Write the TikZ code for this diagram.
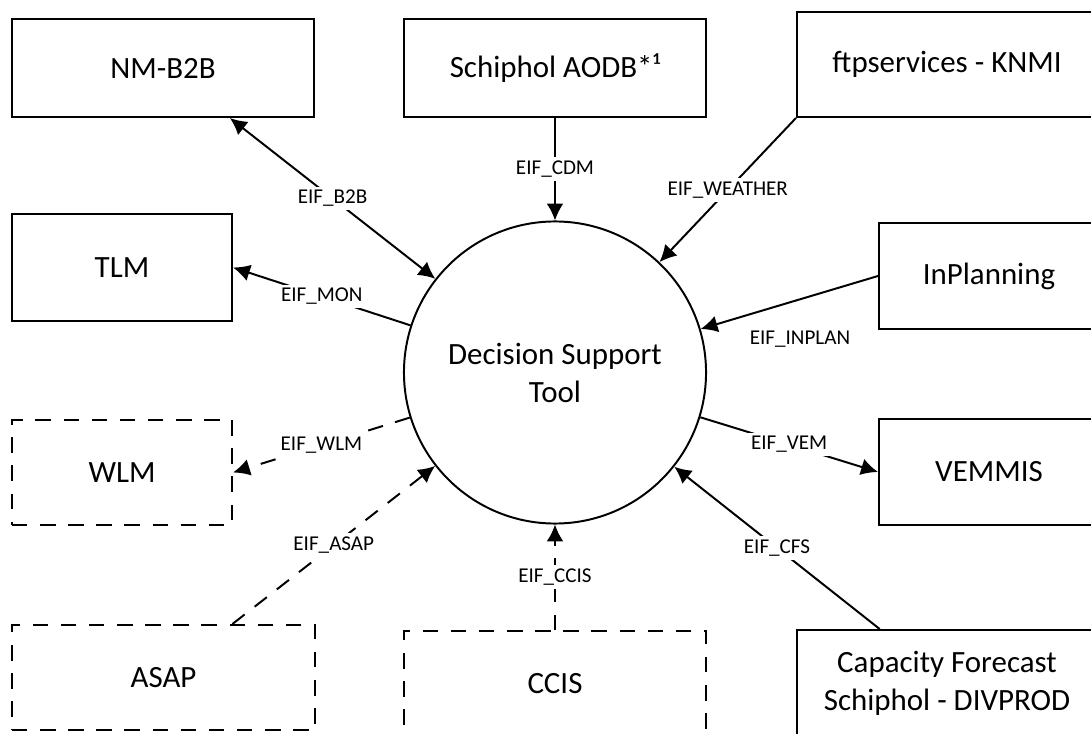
\documentclass[tikz,border=0pt]{standalone}
\usepackage{fontspec}
\setmainfont{Carlito}
\usepackage{tikz}
\usetikzlibrary{arrows.meta, calc, positioning, shapes.geometric}

\tikzset{
	sysbox/.style={draw, rectangle, line width=1.4pt, inner sep=2pt, align=center, font=\fontsize{22}{27}\selectfont},
	newbox/.style={sysbox, dash pattern=on 11pt off 9pt},
	eif/.style={fill=white, inner sep=2.5pt, font=\fontsize{15}{18}\selectfont},
	link/.style={line width=1.4pt, -{Latex[length=12pt,width=12pt]}},
	twolink/.style={line width=1.4pt, {Latex[length=12pt,width=12pt]}-{Latex[length=12pt,width=12pt]}},
	newlink/.style={link, dash pattern=on 11pt off 9pt}
}

\begin{document}
\begin{tikzpicture}[x=0.025cm,y=-0.025cm]
        \useasboundingbox (0,0) rectangle (1091,734);
        \clip (0,0) rectangle (1091,734);

            \node (dst) at (555,372.5) [circle, draw, line width=1.4pt, minimum size=7.55cm, inner sep=0pt, align=center, font=\fontsize{22}{27}\selectfont] {Decision Support\\Tool};

            % systems round the tool
            \node (nmb) at (163,68) [sysbox, minimum width=7.55cm, minimum height=2.45cm] {NM-B2B};
            \node (aodb) at (555,68) [sysbox, minimum width=7.55cm, minimum height=2.45cm] {Schiphol AODB*¹};
            \node (knmi) at (947,64.5) [sysbox, minimum width=7.5cm, minimum height=2.625cm] {ftpservices - KNMI};
            \node (tlm) at (122,267.5) [sysbox, minimum width=5.5cm, minimum height=2.675cm] {TLM};
            \node (inplan) at (989,276) [sysbox, minimum width=5.5cm, minimum height=2.65cm] {InPlanning};
            \node (wlm) at (122,472.5) [newbox, minimum width=5.5cm, minimum height=2.625cm] {WLM};
            \node (vemmis) at (989,472) [sysbox, minimum width=5.5cm, minimum height=2.65cm] {VEMMIS};
            \node (asap) at (163.5,677.5) [newbox, minimum width=7.575cm, minimum height=2.625cm] {ASAP};
            \node (ccis) at (555,683.5) [newbox, minimum width=7.55cm, minimum height=2.625cm] {CCIS};
            \node (cfs) at (947,683) [sysbox, minimum width=7.5cm, minimum height=2.65cm] {Capacity Forecast\\Schiphol - DIVPROD};

            % interfaces
            \draw[twolink] ($(nmb.south west)!.72!(nmb.south east)$) -- node[eif] {EIF\_B2B} (dst);
            \draw[link] (aodb) -- node[eif] {EIF\_CDM} (dst);
            \draw[link] (knmi.south west) -- node[eif] {EIF\_WEATHER} (dst);
            \draw[link] (inplan.west) -- node[eif, pos=.44, yshift=-1cm] {EIF\_INPLAN} (dst);
            \draw[link] (dst) -- node[eif] {EIF\_MON} (tlm.east);
            \draw[newlink] (dst) -- node[eif] {EIF\_WLM} (wlm.east);
            \draw[link] (dst) -- node[eif] {EIF\_VEM} (vemmis.west);
            \draw[newlink] ($(asap.north west)!.726!(asap.north east)$) -- node[eif] {EIF\_ASAP} (dst);
            \draw[newlink] (ccis) -- node[eif] {EIF\_CCIS} (dst);
            \draw[link] ($(cfs.north west)!.277!(cfs.north east)$) -- node[eif] {EIF\_CFS} (dst);
        \end{tikzpicture}
\end{document}
